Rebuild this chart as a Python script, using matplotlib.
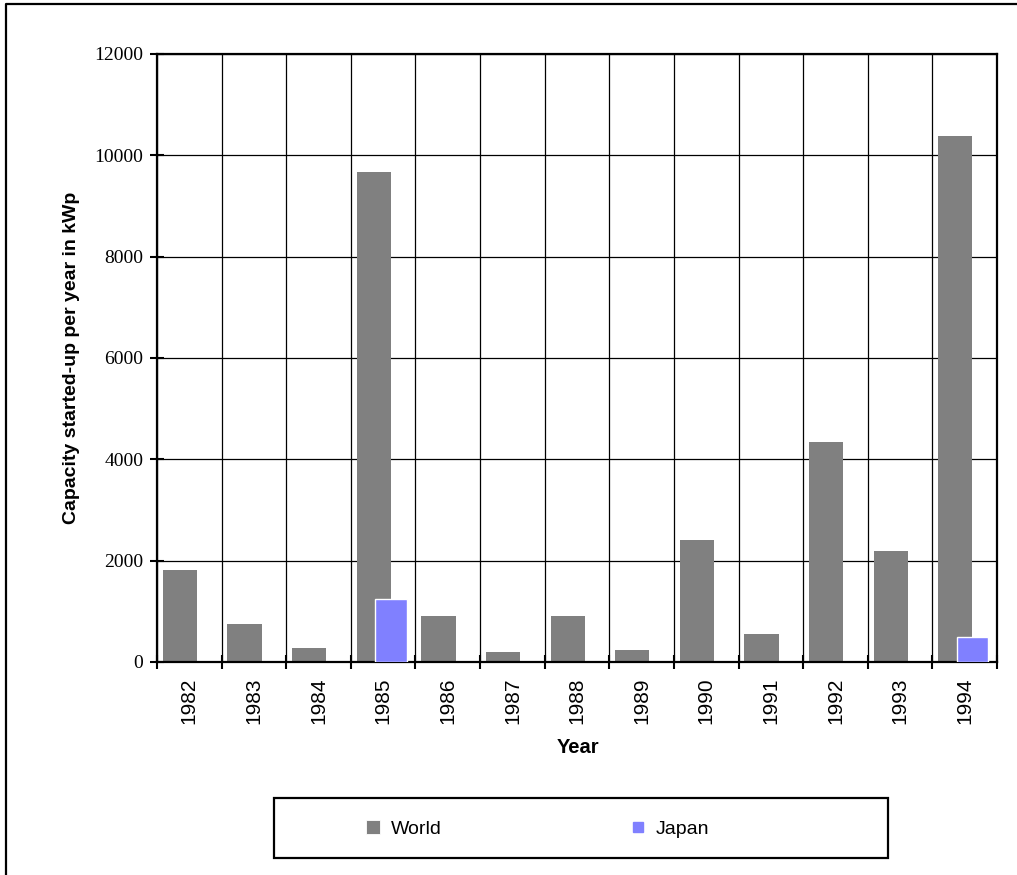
import matplotlib
matplotlib.use("Agg")
import matplotlib.pyplot as plt
from matplotlib.lines import Line2D
from matplotlib.patches import Rectangle
import numpy as np

years = ["1982", "1983", "1984", "1985", "1986", "1987", "1988",
         "1989", "1990", "1991", "1992", "1993", "1994"]
world = [1810, 750, 280, 9670, 900, 200, 900, 240, 2400, 550, 4340, 2200, 10380]
japan = [0, 0, 0, 1250, 0, 0, 0, 0, 0, 0, 0, 0, 500]

GRAY = "#808080"
BLUE = "#8080FF"
SANS = "Liberation Sans"
SERIF = "Liberation Serif"

W, H = 1017, 875
fig = plt.figure(figsize=(W / 100, H / 100), dpi=100)
fig.patch.set_facecolor("white")

# plot area in pixel terms -> figure fractions
left, right, top, bottom = 157, 997, 54, 662
ax = fig.add_axes([left / W, (H - bottom) / H, (right - left) / W, (bottom - top) / H])

x = np.arange(len(years))
ax.bar(x - 0.145, world, width=0.53, color=GRAY, zorder=2)
jx = [xi for xi, v in zip(x, japan) if v > 0]
jv = [v for v in japan if v > 0]
ax.bar(np.array(jx) + 0.12, jv, width=0.49, color=BLUE,
       edgecolor="white", linewidth=1.0, zorder=3)

ax.set_xlim(-0.5, len(years) - 0.5)
ax.set_ylim(0, 12000)
ax.set_yticks(np.arange(0, 12001, 2000))
ax.set_yticklabels([str(v) for v in range(0, 12001, 2000)],
                   fontfamily=SERIF, fontsize=14)

# category labels at centres, boundaries as minor ticks/grid
ax.set_xticks(x)
ax.set_xticklabels(years, rotation=90, fontfamily=SANS, fontsize=15)
ax.set_xticks(np.arange(-0.5, len(years)), minor=True)
ax.tick_params(axis="x", which="major", length=0, pad=11)
ax.tick_params(axis="x", which="minor", direction="inout", length=9.5, width=1.5)
ax.tick_params(axis="y", which="major", direction="inout", length=9.5, width=1.5, pad=5)

ax.set_axisbelow(True)
ax.grid(axis="y", which="major", color="black", linewidth=0.9)
ax.grid(axis="x", which="minor", color="black", linewidth=0.9)

for s in ax.spines.values():
    s.set_linewidth(1.6)
    s.set_color("black")

ax.set_ylabel("Capacity started-up per year in kWp", fontfamily=SANS,
              fontweight="bold", fontsize=14)
ax.yaxis.set_label_coords(-0.092, 0.5)
ax.set_xlabel("Year", fontfamily=SANS, fontweight="bold", fontsize=14.5)
ax.xaxis.set_label_coords(0.501, -0.125)

# legend box
fig.patches.append(Rectangle((274 / W, (H - 858) / H), 614 / W, 60 / H,
                             transform=fig.transFigure, fill=False,
                             edgecolor="black", linewidth=1.6))
handles = [
    Line2D([], [], marker="s", ls="", markersize=9.5, markerfacecolor=GRAY,
           markeredgecolor="white", markeredgewidth=0.6, label="World"),
    Line2D([], [], marker="s", ls="", markersize=7.2, markerfacecolor=BLUE,
           markeredgecolor=BLUE, label="Japan"),
]
fig.legend(handles=handles, loc="center left",
           bbox_to_anchor=(354 / W, (H - 829) / H), ncol=2, frameon=False,
           borderpad=0, handlelength=1.0, handletextpad=0.4,
           columnspacing=9.6, prop={"family": SANS, "size": 14})

# outer frame (top and left edges)
fig.add_artist(Line2D([6 / W, 6 / W, 1.0], [0.0, 1 - 4 / H, 1 - 4 / H],
                      transform=fig.transFigure, color="black", linewidth=1.6))

fig.savefig("out.png", dpi=100)
